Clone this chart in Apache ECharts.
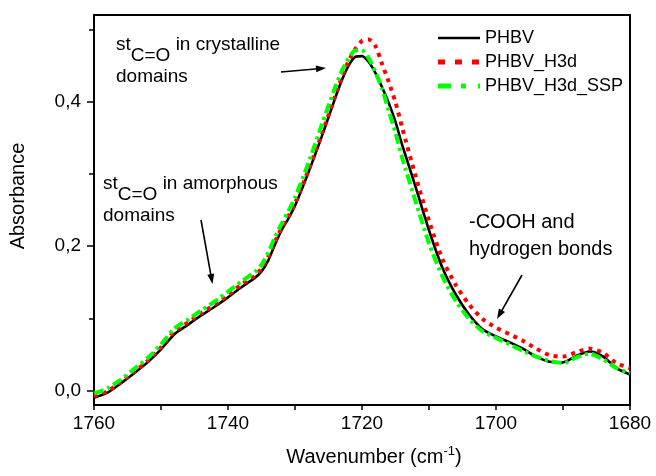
<!DOCTYPE html>
<html><head><meta charset="utf-8">
<script src="https://cdn.jsdelivr.net/npm/echarts@6/dist/echarts.min.js"></script>
<style>html,body{margin:0;padding:0;background:#fff}#c{width:656px;height:476px}</style>
</head><body><div id="c"></div>
<script>
const wavenumbers = [1760,1758,1756,1754,1752,1750,1748,1746,1744,1742,1740,1738,1736,1735,1734,1733,1732,1731,1730,1728,1726,1724,1723,1722,1721,1720,1719,1718,1717,1716,1715,1714,1712,1710,1708,1706,1704,1702,1700,1698,1696,1694,1692,1690,1688,1686,1684,1682,1680];
const phbv = [-0.010,-0.003,0.010,0.024,0.039,0.057,0.078,0.091,0.104,0.116,0.129,0.143,0.156,0.165,0.180,0.202,0.222,0.238,0.256,0.302,0.352,0.405,0.430,0.450,0.462,0.463,0.455,0.440,0.420,0.398,0.372,0.340,0.282,0.222,0.170,0.133,0.105,0.085,0.075,0.067,0.058,0.047,0.040,0.039,0.048,0.054,0.047,0.031,0.022];
const phbvH3d = [-0.008,-0.001,0.012,0.026,0.041,0.060,0.082,0.094,0.107,0.119,0.132,0.147,0.159,0.169,0.185,0.206,0.225,0.241,0.259,0.305,0.355,0.408,0.434,0.456,0.473,0.484,0.486,0.477,0.452,0.427,0.399,0.364,0.297,0.235,0.182,0.146,0.119,0.099,0.087,0.078,0.069,0.058,0.049,0.047,0.053,0.058,0.052,0.038,0.031];
const phbvH3dSsp = [-0.004,0.003,0.015,0.030,0.045,0.064,0.086,0.098,0.111,0.123,0.137,0.151,0.164,0.174,0.191,0.212,0.231,0.248,0.267,0.315,0.368,0.420,0.443,0.460,0.471,0.471,0.460,0.441,0.418,0.387,0.357,0.322,0.262,0.204,0.158,0.124,0.099,0.082,0.073,0.064,0.055,0.047,0.041,0.038,0.046,0.051,0.043,0.031,0.024];
const seriesNames = ['PHBV','PHBV_H3d','PHBV_H3d_SSP'];
const xTickLabels = [1760,1740,1720,1700,1680];
const xTicks = [1760,1750,1740,1730,1720,1710,1700,1690,1680];
const yTickLabels = [0,0.2,0.4];
const yMinorTicks = [0.1,0.3,0.5];

const FONT = "'Liberation Sans', Arial, Helvetica, sans-serif";
const pair = arr => wavenumbers.map((w, i) => [w, arr[i]]);

const legendIcons = [
  'path://M0,1.2h42v2.6h-42z M0,0h0.01v0.01h-0.01z M0,5h0.01v0.01h-0.01z M42,0h0.01v0.01h-0.01z',
  'path://M0,0h7v5h-7z M17,0h7v5h-7z M34,0h7v5h-7z M42,0h0.01v0.01h-0.01z',
  'path://M0,0h13v5h-13z M23,0h5v5h-5z M40,0h2v5h-2z'
];

function arrow(x1, y1, x2, y2) {
  const dx = x2 - x1, dy = y2 - y1, L = Math.hypot(dx, dy), ux = dx / L, uy = dy / L;
  const hl = 10, hw = 3.5;
  const bx = x2 - ux * hl, by = y2 - uy * hl;
  return [
    {type: 'line', shape: {x1: x1, y1: y1, x2: bx + ux * 2, y2: by + uy * 2}, style: {stroke: '#000', lineWidth: 1.6}},
    {type: 'polygon', shape: {points: [[x2, y2], [bx - uy * hw, by + ux * hw], [bx + uy * hw, by - ux * hw]]}, style: {fill: '#000'}}
  ];
}
const richAnn = {
  n: {fontSize: 19, fontFamily: FONT, lineHeight: 18, verticalAlign: 'top', fill: '#000'},
  s: {fontSize: 19, fontFamily: FONT, lineHeight: 30, verticalAlign: 'bottom', fill: '#000'},
  d: {fontSize: 19, fontFamily: FONT, lineHeight: 23, fill: '#000'}
};

const chart = echarts.init(document.getElementById('c'), null, {renderer: 'canvas'});
chart.setOption({
  animation: false,
  backgroundColor: '#fff',
  grid: {left: 93, right: 26, top: 15, bottom: 71, show: true, borderColor: '#000', borderWidth: 2, backgroundColor: 'transparent'},
  legend: {
    orient: 'vertical', left: 433, top: 24, itemWidth: 42, itemHeight: 5, itemGap: 6,
    symbolKeepAspect: false,
    textStyle: {fontSize: 18, fontFamily: FONT, color: '#000', lineHeight: 18},
    data: seriesNames.map((n, i) => ({name: n, icon: legendIcons[i]}))
  },
  xAxis: {
    type: 'value', min: 1680, max: 1760, inverse: true, position: 'bottom',
    axisLine: {show: true, onZero: false, lineStyle: {color: '#000', width: 2}},
    axisTick: {show: true, customValues: xTicks, length: 5, inside: false, lineStyle: {color: '#000', width: 1.5}},
    axisLabel: {customValues: xTickLabels, color: '#000', fontSize: 19, fontFamily: FONT, margin: 9,
      formatter: v => String(Math.round(v))},
    splitLine: {show: false},
    name: '{a|Wavenumber (cm}{s|-1}{a|)}', nameLocation: 'middle', nameGap: 40,
    nameTextStyle: {padding: [0, 0, 0, 24], rich: {
      a: {fontSize: 20, fontFamily: FONT, color: '#000', lineHeight: 24},
      s: {fontSize: 13, fontFamily: FONT, color: '#000', lineHeight: 14, verticalAlign: 'top'}
    }}
  },
  yAxis: [{
    type: 'value', min: -0.02, max: 0.52,
    axisLine: {show: true, onZero: false, lineStyle: {color: '#000', width: 2}},
    axisTick: {show: true, customValues: yTickLabels, length: 7, lineStyle: {color: '#000', width: 1.5}},
    axisLabel: {customValues: yTickLabels, color: '#000', fontSize: 19, fontFamily: FONT, margin: 13,
      formatter: v => v.toFixed(1).replace('.', ',')},
    splitLine: {show: false},
    name: 'Absorbance', nameLocation: 'middle', nameGap: 66,
    nameTextStyle: {fontSize: 20, fontFamily: FONT, color: '#000', padding: [0, 0, 0, 28]}
  }, {
    type: 'value', min: -0.02, max: 0.52, position: 'left', offset: 0,
    axisLine: {show: false, onZero: false},
    axisTick: {show: true, customValues: yMinorTicks, length: 5, lineStyle: {color: '#000', width: 1.5}},
    axisLabel: {show: false}, splitLine: {show: false}
  }],
  series: [
    {name: seriesNames[0], type: 'line', data: pair(phbv), showSymbol: false, symbol: 'none', smooth: 0.25,
      lineStyle: {color: '#000', width: 2.6}, itemStyle: {color: '#000'}},
    {name: seriesNames[1], type: 'line', data: pair(phbvH3d), showSymbol: false, symbol: 'none', smooth: 0.25,
      lineStyle: {color: '#ff0000', width: 4, type: [4, 5], cap: 'butt'}, itemStyle: {color: '#ff0000'}},
    {name: seriesNames[2], type: 'line', data: pair(phbvH3dSsp), showSymbol: false, symbol: 'none', smooth: 0.25,
      lineStyle: {color: '#00ff00', width: 4, type: [10, 4, 3, 4], cap: 'butt'}, itemStyle: {color: '#00ff00'}}
  ],
  graphic: [
    {type: 'text', x: 116, y: 35, style: {text: '{n|st}{s|C=O}{n| in crystalline}\n{d|domains}', rich: richAnn, fill: '#000', font: '19px ' + FONT}},
    {type: 'text', x: 103, y: 174, style: {text: '{n|st}{s|C=O}{n| in amorphous}\n{d|domains}', rich: richAnn, fill: '#000', font: '19px ' + FONT}},
    {type: 'text', x: 469, y: 209, style: {text: '-COOH and\nhydrogen bonds', fill: '#000', font: '20px ' + FONT, lineHeight: 27}},
    ...arrow(281, 72, 326, 68),
    ...arrow(201, 220, 212.5, 284),
    ...arrow(522, 275, 497, 319)
  ]
});
</script></body></html>
